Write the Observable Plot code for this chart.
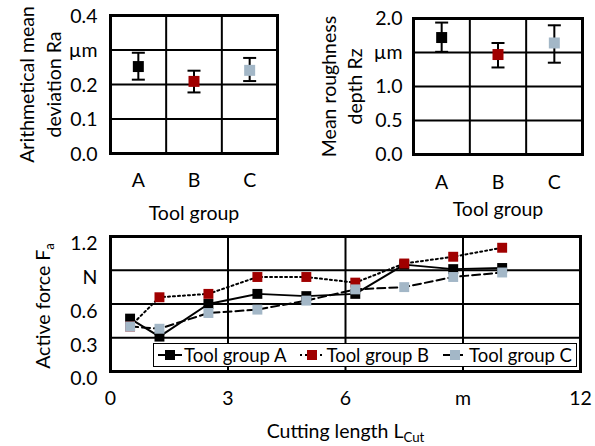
<!DOCTYPE html>
<html><head><meta charset="utf-8">
<script src="https://cdn.jsdelivr.net/npm/d3@7"></script>
<script src="https://cdn.jsdelivr.net/npm/@observablehq/plot@0.6"></script>
<style>
body{margin:0;background:#fff;}
#wrap{position:relative;width:595px;height:446px;overflow:hidden;font-family:Lato,sans-serif;background:#fff;}
#wrap svg.chart{position:absolute;background:transparent;}
#legend{position:absolute;left:153px;top:343px;width:414px;height:22px;border:1px solid #000;background:#fff;
  display:flex;align-items:center;justify-content:space-between;padding:0 4px 0 4px;box-sizing:content-box;font-size:18.5px;color:#000;}
#legend .item{display:flex;align-items:center;white-space:nowrap;}
#legend svg{margin-right:2px;}
</style></head><body><div id="wrap"></div>
<script>
// ---- data ----
const groups = ["A", "B", "C"];
const raMean = [0.252, 0.209, 0.241];
const raLow  = [0.214, 0.177, 0.210];
const raHigh = [0.292, 0.240, 0.277];
const rzMean = [1.72, 1.47, 1.64];
const rzLow  = [1.51, 1.28, 1.35];
const rzHigh = [1.94, 1.64, 1.90];
const raTicks = [0, 0.1, 0.2, 0.3, 0.4];
const raTickLabels = ["0.0", "0.1", "0.2", "µm", "0.4"];
const rzTicks = [0, 0.5, 1.0, 1.5, 2.0];
const rzTickLabels = ["0.0", "0.5", "1.0", "µm", "2.0"];

const cutLength = [0.5, 1.25, 2.5, 3.75, 5, 6.25, 7.5, 8.75, 10];
const forceA = [0.47, 0.31, 0.60, 0.69, 0.67, 0.69, 0.95, 0.91, 0.92];
const forceB = [0.40, 0.66, 0.69, 0.84, 0.84, 0.79, 0.96, 1.02, 1.10];
const forceC = [0.40, 0.38, 0.52, 0.55, 0.63, 0.73, 0.75, 0.84, 0.88];
const seriesNames = ["Tool group A", "Tool group B", "Tool group C"];
const fTicks = [0, 0.3, 0.6, 0.9, 1.2];
const fTickLabels = ["0.0", "0.3", "0.6", "N", "1.2"];
const lTicks = [0, 3, 6, 9, 12];
const lTickLabels = ["0", "3", "6", "m", "12"];

// ---- styles ----
const colors = ["#000000", "#a00000", "#a3b7c7"];
const dashes = [null, "2,3", "8,4"];
const FONT = "Lato, sans-serif";
const FS = 19.5;

const wrap = document.getElementById("wrap");
function place(svg, left, top) {
  svg.classList.add("chart");
  svg.style.left = left + "px";
  svg.style.top = top + "px";
  wrap.appendChild(svg);
  d3.select(svg).selectAll("text").each(function () {
    const m = this.textContent.match(/^(.*)_\{(.*)\}$/);
    if (!m || this.querySelector("tspan")) return;
    const s = d3.select(this);
    s.text(null);
    s.append("tspan").text(m[1]);
    s.append("tspan").attr("dy", "0.3em").attr("font-size", "0.68em").text(m[2]);
  });
}

const capSymbol = {
  draw(ctx, size) {
    const r = Math.sqrt(size / Math.PI);
    ctx.moveTo(-r, 0);
    ctx.lineTo(r, 0);
  }
};

function topChart(o) {
  const data = groups.map((g, i) => ({g, x: i + 0.5, y: o.values[i], lo: o.lows[i], hi: o.highs[i], c: colors[i]}));
  const xs = groups.map((g, i) => i + 0.5);
  return Plot.plot({
    width: o.width, height: 225,
    marginLeft: o.mL, marginRight: o.mR, marginTop: o.mT, marginBottom: o.mB,
    style: {fontFamily: FONT, fontSize: FS + "px", background: "transparent", color: "#000", overflow: "visible"},
    x: {domain: [0, 3], axis: null},
    y: {domain: [0, o.yMax], axis: null},
    color: {type: "identity"},
    marks: [
      Plot.ruleY(o.yTicks, {stroke: "#000", strokeWidth: 2}),
      Plot.ruleX([1, 2], {stroke: "#000", strokeWidth: 2}),
      Plot.frame({stroke: "#000", strokeWidth: 3}),
      Plot.ruleX(data, {x: "x", y1: "lo", y2: "hi", stroke: "#000", strokeWidth: 2}),
      Plot.dot(data, {x: "x", y: "lo", symbol: capSymbol, r: 6.5, stroke: "#000", strokeWidth: 2}),
      Plot.dot(data, {x: "x", y: "hi", symbol: capSymbol, r: 6.5, stroke: "#000", strokeWidth: 2}),
      Plot.dot(data, {x: "x", y: "y", symbol: "square", r: 6.2, fill: "c", stroke: null}),
      Plot.text(o.yTicks, {y: d => d, frameAnchor: "left", text: (d, i) => o.yTickLabels[i], textAnchor: "end", dx: -o.yPad, dy: o.yDy || 0, fontSize: FS}),
      Plot.text(xs, {x: d => d, frameAnchor: "bottom", lineAnchor: "middle", text: (d, i) => groups[i], dy: o.xDy, fontSize: FS}),
      Plot.text([o.title], {frameAnchor: "left", rotate: -90, lineAnchor: "middle", textAnchor: "middle", dx: o.titleDx, lineHeight: o.lh, fontSize: FS}),
      Plot.text(["Tool group"], {frameAnchor: "bottom", lineAnchor: "middle", dy: o.labelDy, fontSize: FS})
    ]
  });
}

place(topChart({
  values: raMean, lows: raLow, highs: raHigh, yMax: 0.4, yTicks: raTicks, yTickLabels: raTickLabels,
  title: "Arithmetical mean\ndeviation Ra", width: 300, mL: 110, mR: 23, mT: 15, mB: 72,
  yPad: 13, yDy: 1, xDy: 27, titleDx: -71.5, lh: 27 / FS, labelDy: 60
}), 0, 0);

place(topChart({
  values: rzMean, lows: rzLow, highs: rzHigh, yMax: 2.0, yTicks: rzTicks, yTickLabels: rzTickLabels,
  title: "Mean roughness\ndepth Rz", width: 295, mL: 113, mR: 13, mT: 18, mB: 71,
  yPad: 11, yDy: 0, xDy: 28.5, titleDx: -73, lh: 26 / FS, labelDy: 55
}), 300, 0);

// ---- bottom chart ----
const forces = [forceA, forceB, forceC];
const seriesData = forces.map((vals, s) => cutLength.map((x, i) => ({x, y: vals[i], s: seriesNames[s], c: colors[s]})));
const bottomMarks = [
  Plot.ruleY(fTicks, {stroke: "#000", strokeWidth: 2}),
  Plot.ruleX(lTicks, {stroke: "#000", strokeWidth: 2}),
  Plot.frame({stroke: "#000", strokeWidth: 3})
];
seriesData.forEach((d, s) => {
  bottomMarks.push(Plot.line(d, {x: "x", y: "y", stroke: "#000", strokeWidth: 2, strokeDasharray: dashes[s]}));
  bottomMarks.push(Plot.dot(d, {x: "x", y: "y", symbol: "square", r: 5.6, fill: "c", stroke: null}));
});
bottomMarks.push(
  Plot.text(fTicks, {y: d => d, frameAnchor: "left", text: (d, i) => fTickLabels[i], textAnchor: "end", dx: -13, dy: 7.5, fontSize: FS}),
  Plot.text(lTicks, {x: d => d, frameAnchor: "bottom", lineAnchor: "middle", text: (d, i) => lTickLabels[i], dy: 27, fontSize: FS}),
  Plot.text(["Active force F_{a}"], {frameAnchor: "left", rotate: -90, lineAnchor: "middle", textAnchor: "middle", dx: -67, dy: 2, fontSize: FS}),
  Plot.text(["Cutting length L_{Cut}"], {frameAnchor: "bottom", lineAnchor: "middle", dy: 60, fontSize: FS})
);
place(Plot.plot({
  width: 595, height: 221,
  marginLeft: 110, marginRight: 15, marginTop: 11, marginBottom: 75,
  style: {fontFamily: FONT, fontSize: FS + "px", background: "transparent", color: "#000", overflow: "visible"},
  x: {domain: [0, 12], axis: null},
  y: {domain: [0, 1.2], axis: null},
  color: {type: "identity"},
  marks: bottomMarks
}), 0, 225);

// ---- legend ----
const legend = d3.select(wrap).append("div").attr("id", "legend");
seriesNames.forEach((name, s) => {
  const it = legend.append("div").attr("class", "item");
  const sv = it.append("svg").attr("width", 24).attr("height", 12);
  sv.append("line").attr("x1", 0).attr("x2", 24).attr("y1", 6).attr("y2", 6)
    .attr("stroke", "#000").attr("stroke-width", 2).attr("stroke-dasharray", dashes[s]);
  sv.append("rect").attr("x", 7).attr("y", 1).attr("width", 10).attr("height", 10).attr("fill", colors[s]);
  it.append("span").text(name);
});
</script></body></html>
